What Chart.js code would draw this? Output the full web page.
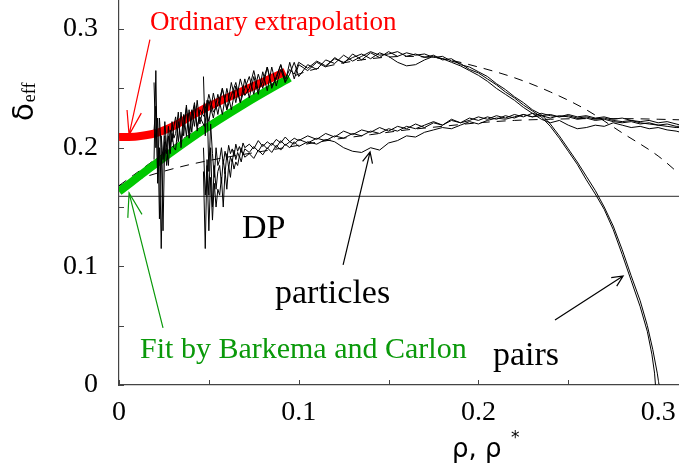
<!DOCTYPE html>
<html>
<head>
<meta charset="utf-8">
<script src="https://cdn.jsdelivr.net/npm/chart.js@4.4.1/dist/chart.umd.min.js"></script>
<style>
  html, body { margin: 0; padding: 0; background: #fff; }
  #wrap { width: 679px; height: 474px; position: relative; }
</style>
</head>
<body>
<div id="wrap"><canvas id="deltaChart"></canvas></div>
<script>
// tick values and labels
const xTicks = [0, 0.1, 0.2, 0.3];
const xTickLabels = ['0', '0.1', '0.2', '0.3'];
const yTicks = [0, 0.1, 0.2, 0.3];
const yTickLabels = ['0', '0.1', '0.2', '0.3'];
const tickMarks = [0, 0.05, 0.1, 0.15, 0.2, 0.25, 0.3];

// DP value
const dpLevel = 0.159;

// upper bundle (pairs), shared part
const upperX = [0.0195, 0.0205, 0.0215, 0.0225, 0.0235, 0.0245, 0.0255, 0.0265, 0.0275, 0.0285, 0.0295, 0.0305,
  0.0315, 0.033, 0.0345, 0.036, 0.0375, 0.039, 0.0405, 0.042, 0.0435, 0.045,
  0.0475, 0.05, 0.0525, 0.055, 0.0575, 0.06, 0.0625, 0.065, 0.0675, 0.07, 0.0725, 0.075, 0.0775, 0.08, 0.0825, 0.085, 0.0875, 0.09, 0.0925, 0.095, 0.0975, 0.1,
  0.105, 0.11, 0.115, 0.12, 0.125, 0.13, 0.135, 0.14, 0.145, 0.15, 0.155, 0.16, 0.165, 0.17, 0.175, 0.18, 0.185, 0.19, 0.195, 0.2, 0.205, 0.21, 0.215, 0.22, 0.225, 0.23];
const upper1 = [0.215, 0.235, 0.18, 0.2, 0.115, 0.19, 0.205, 0.185, 0.21, 0.195, 0.212, 0.2,
  0.198, 0.222, 0.205, 0.228, 0.21, 0.232, 0.213, 0.236, 0.218, 0.226,
  0.218, 0.24, 0.225, 0.245, 0.228, 0.25, 0.232, 0.252, 0.238, 0.258, 0.242, 0.26, 0.245, 0.264, 0.248, 0.268, 0.252, 0.266, 0.255, 0.272, 0.258, 0.27,
  0.265, 0.272, 0.268, 0.276, 0.271, 0.279, 0.274, 0.28, 0.276, 0.281, 0.277, 0.28, 0.278, 0.279, 0.276, 0.277, 0.273, 0.271, 0.266, 0.263, 0.258, 0.253, 0.247, 0.242, 0.236, 0.231];
const upper2 = [0.255, 0.2, 0.225, 0.14, 0.21, 0.19, 0.222, 0.2, 0.185, 0.215, 0.205, 0.218,
  0.226, 0.205, 0.23, 0.21, 0.236, 0.212, 0.232, 0.218, 0.24, 0.22,
  0.238, 0.222, 0.246, 0.228, 0.25, 0.232, 0.244, 0.255, 0.238, 0.25, 0.26, 0.245, 0.262, 0.25, 0.268, 0.252, 0.258, 0.27, 0.255, 0.262, 0.272, 0.26,
  0.27, 0.266, 0.274, 0.271, 0.278, 0.273, 0.277, 0.281, 0.278, 0.279, 0.281, 0.277, 0.279, 0.276, 0.278, 0.274, 0.275, 0.27, 0.268, 0.264, 0.26, 0.254, 0.249, 0.243, 0.238, 0.232];
const upper3 = [0.19, 0.265, 0.17, 0.225, 0.2, 0.13, 0.21, 0.195, 0.218, 0.2, 0.222, 0.208,
  0.212, 0.23, 0.2, 0.22, 0.234, 0.208, 0.226, 0.238, 0.214, 0.232,
  0.226, 0.245, 0.23, 0.236, 0.25, 0.232, 0.255, 0.238, 0.258, 0.244, 0.25, 0.265, 0.248, 0.256, 0.268, 0.25, 0.26, 0.27, 0.258, 0.266, 0.262, 0.272,
  0.267, 0.273, 0.269, 0.275, 0.272, 0.276, 0.279, 0.275, 0.28, 0.277, 0.272, 0.269, 0.27, 0.274, 0.277, 0.275, 0.272, 0.269, 0.265, 0.261, 0.256, 0.25, 0.245, 0.24, 0.234, 0.229];

// pairs: steep drop to zero
const dropX1 = [0.235, 0.24, 0.245, 0.25, 0.255, 0.26, 0.265, 0.27, 0.275, 0.28, 0.285, 0.29, 0.294, 0.2965, 0.298, 0.2985];
const drop1 = [0.226, 0.218, 0.208, 0.197, 0.186, 0.173, 0.161, 0.148, 0.131, 0.11, 0.088, 0.066, 0.045, 0.026, 0.01, 0];
const dropX2 = [0.235, 0.24, 0.245, 0.25, 0.255, 0.26, 0.265, 0.27, 0.275, 0.28, 0.285, 0.29, 0.294, 0.297, 0.2995, 0.3005];
const drop2 = [0.228, 0.22, 0.21, 0.199, 0.188, 0.176, 0.164, 0.15, 0.134, 0.114, 0.092, 0.071, 0.05, 0.03, 0.01, 0];
// third upper line levelling off
const tailX = [0.235, 0.24, 0.245, 0.25, 0.255, 0.26, 0.265, 0.27, 0.275, 0.28, 0.285, 0.29, 0.295, 0.3, 0.305, 0.31, 0.3125];
const tail3 = [0.224, 0.221, 0.223, 0.219, 0.216, 0.217, 0.219, 0.218, 0.221, 0.219, 0.217, 0.218, 0.216, 0.217, 0.215, 0.214, 0.213];

// lower bundle (particles)
const lowerX = [0.047, 0.048, 0.049, 0.05, 0.051, 0.052, 0.053, 0.054, 0.055,
  0.056, 0.057, 0.058, 0.059, 0.06, 0.061, 0.062, 0.063, 0.064, 0.065, 0.066, 0.067, 0.068, 0.069, 0.07,
  0.0725, 0.075, 0.0775, 0.08, 0.0825, 0.085, 0.0875, 0.09, 0.0925, 0.095, 0.0975, 0.1,
  0.105, 0.11, 0.115, 0.12, 0.125, 0.13, 0.135, 0.14, 0.145, 0.15, 0.155, 0.16, 0.165, 0.17, 0.175, 0.18, 0.185, 0.19, 0.195, 0.2, 0.205,
  0.21, 0.215, 0.22, 0.225, 0.23, 0.235, 0.24, 0.245, 0.25, 0.255, 0.26, 0.265, 0.27, 0.275, 0.28, 0.285, 0.29, 0.295, 0.3, 0.305, 0.31,
  0.3125];
const lower1 = [0.18, 0.115, 0.19, 0.16, 0.2, 0.15, 0.185, 0.165, 0.18,
  0.185, 0.17, 0.19, 0.178, 0.195, 0.183, 0.192, 0.188, 0.198, 0.19, 0.196, 0.192, 0.2, 0.194, 0.199,
  0.196, 0.201, 0.197, 0.203, 0.199, 0.204, 0.2, 0.206, 0.202, 0.205, 0.203, 0.207,
  0.204, 0.208, 0.206, 0.21, 0.208, 0.212, 0.21, 0.214, 0.212, 0.216, 0.214, 0.218, 0.216, 0.219, 0.222, 0.219, 0.223, 0.221, 0.225, 0.223, 0.226,
  0.224, 0.227, 0.225, 0.228, 0.226, 0.227, 0.225, 0.227, 0.226, 0.224, 0.225, 0.223, 0.224, 0.222, 0.221, 0.222, 0.22, 0.221, 0.219, 0.218, 0.217,
  0.217];
const lower2 = [0.26, 0.21, 0.24, 0.18, 0.22, 0.195, 0.175, 0.2, 0.185,
  0.19, 0.2, 0.186, 0.197, 0.19, 0.202, 0.195, 0.199, 0.193, 0.203, 0.197, 0.201, 0.196, 0.204, 0.2,
  0.203, 0.199, 0.206, 0.201, 0.205, 0.202, 0.207, 0.204, 0.209, 0.205, 0.208, 0.206,
  0.21, 0.207, 0.212, 0.209, 0.214, 0.211, 0.215, 0.213, 0.217, 0.214, 0.218, 0.216, 0.22, 0.217, 0.221, 0.219, 0.224, 0.221, 0.223, 0.226, 0.224,
  0.227, 0.225, 0.228, 0.226, 0.229, 0.227, 0.228, 0.226, 0.227, 0.225, 0.226, 0.224, 0.225, 0.223, 0.222, 0.223, 0.221, 0.22, 0.219, 0.22, 0.218,
  0.218];
const lower3 = [0.2, 0.16, 0.185, 0.13, 0.175, 0.139, 0.17, 0.15, 0.165,
  0.16, 0.175, 0.15, 0.18, 0.165, 0.185, 0.175, 0.19, 0.182, 0.188, 0.185, 0.193, 0.188, 0.196, 0.192,
  0.195, 0.191, 0.198, 0.194, 0.2, 0.196, 0.202, 0.198, 0.203, 0.2, 0.205, 0.201,
  0.205, 0.203, 0.207, 0.205, 0.2, 0.197, 0.196, 0.2, 0.198, 0.204, 0.206, 0.21, 0.209, 0.213, 0.215, 0.217, 0.216, 0.219, 0.222, 0.22, 0.223,
  0.225, 0.224, 0.226, 0.228, 0.226, 0.229, 0.227, 0.226, 0.228, 0.226, 0.227, 0.225, 0.226, 0.224, 0.225, 0.223, 0.222, 0.223, 0.221, 0.222, 0.22,
  0.219];

// dashed curves
const dashX = [0, 0.02, 0.04, 0.06, 0.08, 0.1, 0.12, 0.14, 0.16, 0.18, 0.2, 0.22, 0.24, 0.26, 0.28, 0.3, 0.3125];
const dashUpper = [0.168, 0.19, 0.212, 0.23, 0.247, 0.262, 0.27, 0.275, 0.277, 0.275, 0.268, 0.259, 0.247, 0.232, 0.2125, 0.193, 0.177];
const dashLower = [0.168, 0.178, 0.186, 0.192, 0.197, 0.202, 0.207, 0.211, 0.215, 0.218, 0.221, 0.223, 0.224, 0.2245, 0.2245, 0.224, 0.2235];

// ordinary extrapolation (red) and fit (green)
const extrapX = [0, 0.01, 0.02, 0.03, 0.045, 0.06, 0.075, 0.0925];
const extrapY = [0.209, 0.2095, 0.212, 0.218, 0.231, 0.242, 0.252, 0.264];
const fitX = [0, 0.02, 0.045, 0.07, 0.095];
const fitY = [0.163, 0.186, 0.213, 0.237, 0.259];

const pts = (xs, ys) => xs.map((x, i) => ({ x: x, y: ys[i] }));

const RED = '#ff0000';
const GREEN_LINE = '#00c800';
const GREEN_TEXT = '#0a990a';
const SERIF = '"Liberation Serif", "Times New Roman", serif';

function noisy(data) {
  return { data: data, borderColor: '#000', borderWidth: 1, pointRadius: 0, tension: 0 };
}

// annotations in data coordinates
const notes = [
  { text: 'Ordinary extrapolation', x: 0.0172, y: 0.2993, color: RED, size: 27 },
  { text: 'Fit by Barkema and Carlon', x: 0.0117, y: 0.0228, color: GREEN_TEXT, size: 30 },
  { text: 'DP', x: 0.0684, y: 0.124, color: '#000', size: 34 },
  { text: 'particles', x: 0.0868, y: 0.069, color: '#000', size: 34 },
  { text: 'pairs', x: 0.2081, y: 0.0169, color: '#000', size: 34 }
];
const arrows = [
  { from: [0.0172, 0.291], to: [0.0056, 0.2108], color: RED, head: 25, ang: 17 },
  { from: [0.0245, 0.0481], to: [0.0056, 0.1619], color: GREEN_TEXT, head: 25, ang: 17 },
  { from: [0.1247, 0.1012], to: [0.1397, 0.1965], color: '#000', head: 12, ang: 25 },
  { from: [0.2426, 0.0548], to: [0.2805, 0.0919], color: '#000', head: 12, ang: 25 }
];

const decorPlugin = {
  id: 'decor',
  afterDraw(chart) {
    const ctx = chart.ctx;
    const sx = chart.scales.x, sy = chart.scales.y;
    const area = chart.chartArea;
    ctx.save();
    // inward tick marks
    ctx.strokeStyle = '#444';
    ctx.lineWidth = 1;
    ctx.beginPath();
    tickMarks.forEach(v => {
      const px = Math.round(sx.getPixelForValue(v)) + 0.5;
      ctx.moveTo(px, area.bottom);
      ctx.lineTo(px, area.bottom - 5);
      const py = Math.round(sy.getPixelForValue(v)) + 0.5;
      ctx.moveTo(area.left, py);
      ctx.lineTo(area.left + 5, py);
    });
    ctx.stroke();

    // arrows
    arrows.forEach(a => {
      const x0 = sx.getPixelForValue(a.from[0]), y0 = sy.getPixelForValue(a.from[1]);
      const x1 = sx.getPixelForValue(a.to[0]), y1 = sy.getPixelForValue(a.to[1]);
      const ang = Math.atan2(y0 - y1, x0 - x1);
      const d = a.ang * Math.PI / 180;
      ctx.strokeStyle = a.color;
      ctx.lineWidth = 1.2;
      ctx.beginPath();
      ctx.moveTo(x0, y0);
      ctx.lineTo(x1, y1);
      ctx.moveTo(x1 + a.head * Math.cos(ang + d), y1 + a.head * Math.sin(ang + d));
      ctx.lineTo(x1, y1);
      ctx.lineTo(x1 + a.head * Math.cos(ang - d), y1 + a.head * Math.sin(ang - d));
      ctx.stroke();
    });

    // text labels
    ctx.textBaseline = 'alphabetic';
    ctx.textAlign = 'left';
    notes.forEach(n => {
      ctx.fillStyle = n.color;
      ctx.font = n.size + 'px ' + SERIF;
      ctx.fillText(n.text, sx.getPixelForValue(n.x), sy.getPixelForValue(n.y));
    });

    // x axis title: rho, rho*
    ctx.fillStyle = '#000';
    ctx.font = '26px "DejaVu Sans"';
    ctx.fillText('ρ, ρ', 452, 457);
    ctx.font = '17px "DejaVu Sans"';
    ctx.fillText('*', 511, 443);

    // y axis title: delta_eff, rotated
    ctx.save();
    ctx.translate(33, 121);
    ctx.rotate(-Math.PI / 2);
    ctx.font = '29px "DejaVu Sans"';
    ctx.fillText('δ', 0, 0);
    const w = ctx.measureText('δ').width;
    ctx.font = '18px ' + SERIF;
    ctx.fillText('eff', w + 1, 2);
    ctx.restore();

    ctx.restore();
  }
};

const ctx = document.getElementById('deltaChart').getContext('2d');
const deltaChart = new Chart(ctx, {
  type: 'line',
  data: {
    datasets: [
      noisy(pts(upperX.concat(dropX1), upper1.concat(drop1))),
      noisy(pts(upperX.concat(dropX2), upper2.concat(drop2))),
      noisy(pts(upperX.concat(tailX), upper3.concat(tail3))),
      noisy(pts(lowerX, lower1)),
      noisy(pts(lowerX, lower2)),
      noisy(pts(lowerX, lower3)),
      {
        data: pts(extrapX, extrapY), borderColor: RED, borderWidth: 8,
        pointRadius: 0, cubicInterpolationMode: 'monotone', borderCapStyle: 'butt'
      },
      {
        data: pts(fitX, fitY), borderColor: GREEN_LINE, borderWidth: 8,
        pointRadius: 0, cubicInterpolationMode: 'monotone', borderCapStyle: 'butt'
      },
      {
        data: pts(dashX, dashUpper), borderColor: '#000', borderWidth: 1,
        borderDash: [9, 7], pointRadius: 0, cubicInterpolationMode: 'monotone'
      },
      {
        data: pts(dashX, dashLower), borderColor: '#000', borderWidth: 1,
        borderDash: [9, 7], pointRadius: 0, cubicInterpolationMode: 'monotone'
      },
      {
        data: pts([0, 0.3125], [dpLevel, dpLevel]), borderColor: '#555', borderWidth: 1.2,
        pointRadius: 0
      }
    ]
  },
  options: {
    responsive: true,
    maintainAspectRatio: false,
    animation: false,
    layout: { padding: 0 },
    plugins: {
      legend: { display: false },
      tooltip: { enabled: false }
    },
    scales: {
      x: {
        type: 'linear',
        min: 0,
        max: 0.3116,
        grid: { display: false, drawTicks: true, tickLength: 11 },
        border: { display: true, color: '#444', width: 1.2 },
        afterBuildTicks: axis => { axis.ticks = xTicks.map(v => ({ value: v })); },
        afterFit: axis => {
          axis.height = 89;
          axis.paddingLeft = 0; axis.paddingRight = 0;
          axis.paddingTop = 0; axis.paddingBottom = 0;
        },
        ticks: {
          autoSkip: false,
          maxRotation: 0,
          padding: 0,
          color: '#000',
          font: { family: SERIF, size: 28 },
          callback: (v, i) => xTickLabels[i]
        }
      },
      y: {
        type: 'linear',
        min: 0,
        max: 0.3245,
        grid: { display: false, drawTicks: true, tickLength: 21 },
        border: { display: true, color: '#444', width: 1.2 },
        afterBuildTicks: axis => { axis.ticks = yTicks.map(v => ({ value: v })); },
        afterFit: axis => {
          axis.width = 119;
          axis.paddingLeft = 0; axis.paddingRight = 0;
          axis.paddingTop = 0; axis.paddingBottom = 0;
        },
        ticks: {
          autoSkip: false,
          padding: 0,
          color: '#000',
          font: { family: SERIF, size: 28 },
          callback: (v, i) => yTickLabels[i]
        }
      }
    }
  },
  plugins: [decorPlugin]
});
</script>
</body>
</html>
